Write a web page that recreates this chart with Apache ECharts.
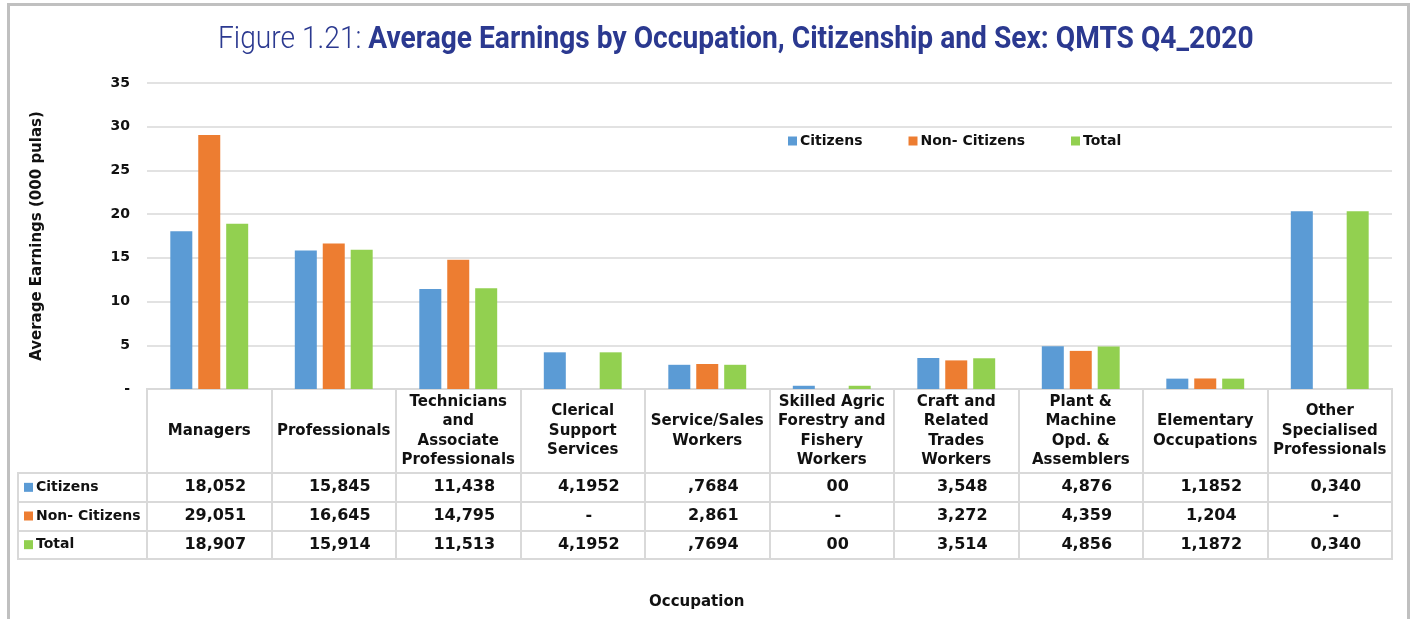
<!DOCTYPE html>
<html>
<head>
<meta charset="utf-8">
<script src="https://cdn.jsdelivr.net/npm/echarts@6/dist/echarts.min.js"></script>
<style>
  html, body {margin: 0; padding: 0; background: #fff;}
  #chart {width: 1416px; height: 619px;}
</style>
</head>
<body>
<div id="chart"></div>
<script>
// categories (header cells keep the original line breaks)
var occupations = [
  'Managers', 'Professionals', 'Technicians\nand\nAssociate\nProfessionals',
  'Clerical\nSupport\nServices', 'Service/Sales\nWorkers',
  'Skilled Agric\nForestry and\nFishery\nWorkers', 'Craft and\nRelated\nTrades\nWorkers',
  'Plant &\nMachine\nOpd. &\nAssemblers', 'Elementary\nOccupations',
  'Other\nSpecialised\nProfessionals'
]
var seriesNames = ['Citizens', 'Non- Citizens', 'Total']
var colors = ['#5B9BD5', '#ED7D31', '#92D050']

// bar heights, thousand pulas
var citizens    = [18.052, 15.845, 11.438, 4.195, 2.768, 0.37, 3.548, 4.876, 1.185, 20.34]
var nonCitizens = [29.051, 16.645, 14.795, null, 2.861, null, 3.272, 4.359, 1.204, null]
var total       = [18.907, 15.914, 11.513, 4.195, 2.769, 0.37, 3.514, 4.856, 1.187, 20.34]

// data table text as printed under the chart
var citizensTxt    = ['18,052', '15,845', '11,438', '4,1952', ',7684', '00', '3,548', '4,876', '1,1852', '0,340']
var nonCitizensTxt = ['29,051', '16,645', '14,795', '-', '2,861', '-', '3,272', '4,359', '1,204', '-']
var totalTxt       = ['18,907', '15,914', '11,513', '4,1952', ',7694', '00', '3,514', '4,856', '1,1872', '0,340']

var yTicks = [0, 5, 10, 15, 20, 25, 30, 35]

var font = 'DejaVu Sans'
var border = '#d9d9d9'

var myChart = echarts.init(document.getElementById('chart'))

function rowAxis(texts, offset) {
  return {
    type: 'category', gridIndex: 0, position: 'bottom', offset: offset,
    data: occupations,
    axisLine: {show: false}, axisTick: {show: false},
    axisLabel: {
      interval: 0, margin: 0, verticalAlign: 'middle',
      padding: [0, 0, 0, 12],
      fontFamily: font, fontWeight: 'bold', fontSize: 16, color: '#111',
      formatter: function (v, i) { return texts[i] }
    }
  }
}

function splitCatAxis(grid) {
  return {
    type: 'category', gridIndex: grid, data: occupations,
    axisLine: {show: false}, axisTick: {show: false}, axisLabel: {show: false},
    splitLine: {show: true, interval: 0, lineStyle: {color: border, width: 2}}
  }
}

var seriesList = []
;[citizens, nonCitizens, total].forEach(function (arr, i) {
  seriesList.push({
    name: seriesNames[i],
    type: 'bar',
    barWidth: 22,
    barGap: '27%',
    itemStyle: {color: colors[i]},
    data: arr
  })
})

var rich = {t: {fontFamily: font, fontWeight: 'bold', fontSize: 14, color: '#111', padding: [0, 0, 0, 3]}}
colors.forEach(function (c, i) {
  rich['s' + i] = {width: 9, height: 9, backgroundColor: c}
})

myChart.setOption({
  animation: false,
  title: {
    text: 'Occupation', left: 644, top: 590,
    textStyle: {fontFamily: font, fontWeight: 'bold', fontSize: 15, color: '#111'}
  },
  legend: {
    data: seriesNames,
    left: 783, top: 129,
    icon: 'rect', itemWidth: 9, itemHeight: 9, itemGap: 46,
    textStyle: {fontFamily: font, fontWeight: 'bold', fontSize: 14, color: '#111', padding: [0, 0, 0, -2]}
  },
  grid: [
    {left: 147, right: 24, top: 83, bottom: 230},
    {left: 147, right: 24, top: 389, height: 84, show: true, borderColor: border, borderWidth: 2},
    {left: 147, right: 24, top: 473, height: 86, show: true, borderColor: border, borderWidth: 2},
    {left: 18, width: 129, top: 473, height: 86, show: true, borderColor: border, borderWidth: 2}
  ],
  xAxis: [
    {
      type: 'category', gridIndex: 0, position: 'bottom', data: occupations,
      axisLine: {show: false}, axisTick: {show: false},
      axisLabel: {
        interval: 0, margin: 42, verticalAlign: 'middle', lineHeight: 19.5,
        fontFamily: font, fontWeight: 'bold', fontSize: 15, color: '#111'
      }
    },
    rowAxis(citizensTxt, 98),
    rowAxis(nonCitizensTxt, 127),
    rowAxis(totalTxt, 156),
    splitCatAxis(1),
    splitCatAxis(2),
    {type: 'value', gridIndex: 3, show: false}
  ],
  yAxis: [
    {
      type: 'value', gridIndex: 0, min: 0, max: 35, interval: 5,
      name: 'Average Earnings (000 pulas)', nameLocation: 'middle', nameGap: 102,
      nameTextStyle: {fontFamily: font, fontWeight: 'bold', fontSize: 15, color: '#111'},
      axisLine: {show: false}, axisTick: {show: false},
      axisLabel: {
        margin: 17, fontFamily: font, fontWeight: 'bold', fontSize: 14, color: '#111',
        formatter: function (v) { return yTicks.indexOf(v) === 0 ? '-' : String(v) }
      },
      splitLine: {lineStyle: {color: border, width: 1.5}}
    },
    {type: 'value', gridIndex: 1, show: false},
    {
      type: 'category', gridIndex: 2, inverse: true, data: seriesNames,
      axisLine: {show: false}, axisTick: {show: false}, axisLabel: {show: false},
      splitLine: {show: true, interval: 0, lineStyle: {color: border, width: 2}}
    },
    {
      type: 'category', gridIndex: 3, inverse: true, data: seriesNames,
      axisLine: {show: false}, axisTick: {show: false},
      splitLine: {show: true, interval: 0, lineStyle: {color: border, width: 2}},
      axisLabel: {
        inside: true, margin: 6, rich: rich,
        formatter: function (v, i) { return '{s' + i + '|}{t|' + v + '}' }
      }
    }
  ],
  graphic: [
    {
      type: 'rect', left: 6, top: 2, silent: true,
      shape: {width: 1400, height: 660},
      style: {fill: 'none', stroke: '#c0c0c0', lineWidth: 3}
    },
    {
      // condensed look of the original title font
      type: 'text', x: 218, y: 24, scaleX: 0.88, silent: true,
      style: {
        text: '{a|Figure 1.21: }{b|Average Earnings by Occupation, Citizenship and Sex: QMTS Q4_2020}',
        rich: {
          a: {fontFamily: 'Roboto', fontSize: 32, fontWeight: 300, fill: '#2B3990'},
          b: {fontFamily: 'Roboto', fontSize: 32, fontWeight: 'bold', fill: '#2B3990'}
        }
      }
    }
  ],
  series: seriesList
})
</script>
</body>
</html>
